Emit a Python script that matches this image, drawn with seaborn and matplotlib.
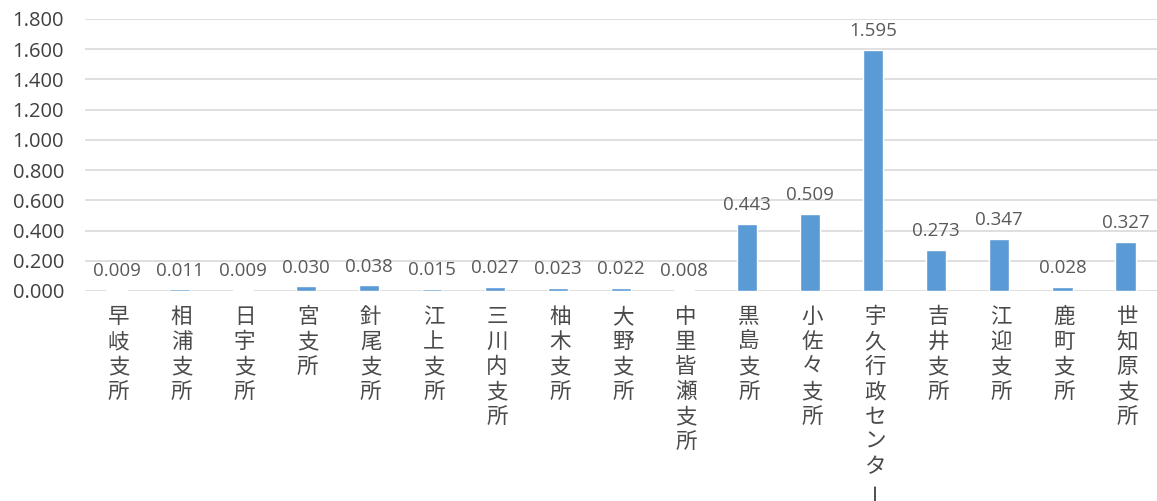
import numpy as np
import pandas as pd
import seaborn as sns
import matplotlib.pyplot as plt

OFFICES = [
    "早岐支所", "相浦支所", "日宇支所", "宮支所", "針尾支所", "江上支所",
    "三川内支所", "柚木支所", "大野支所", "中里皆瀬支所", "黒島支所",
    "小佐々支所", "宇久行政センター", "吉井支所", "江迎支所", "鹿町支所",
    "世知原支所",
]
VALUES = [
    0.009, 0.011, 0.009, 0.030, 0.038, 0.015, 0.027, 0.023, 0.022, 0.008,
    0.443, 0.509, 1.595, 0.273, 0.347, 0.028, 0.327,
]
Y_TICKS = [0.0, 0.2, 0.4, 0.6, 0.8, 1.0, 1.2, 1.4, 1.6, 1.8]

BAR_COLOR = "#5B9BD5"
GRID_COLOR = "#D9D9D9"
TEXT_COLOR = "#595959"
NUM_FONT = ["Open Sans", "DejaVu Sans"]


def main():
    sns.set_theme(style="white")
    plt.rcParams["font.family"] = ["Noto Sans CJK JP", "DejaVu Sans"]

    df = pd.DataFrame({"office": OFFICES, "value": VALUES})

    fig = plt.figure(figsize=(11.57, 5.01), dpi=100)
    ax = fig.add_axes([85 / 1157, 1 - 291 / 501, 1 - 85 / 1157, (291 - 19) / 501])

    sns.barplot(data=df, x="office", y="value", color=BAR_COLOR, width=0.32,
                saturation=1, ax=ax, zorder=3)

    ax.set_ylim(0, 1.8)
    ax.set_xlim(-0.5, len(OFFICES) - 0.5)
    ax.set_yticks(Y_TICKS)
    ax.set_yticklabels([f"{t:.3f}" for t in Y_TICKS], fontsize=14.5,
                       color="#404040", family=NUM_FONT)
    ax.yaxis.grid(True, color=GRID_COLOR, linewidth=1.2, zorder=0)
    ax.set_axisbelow(True)
    for side in ax.spines.values():
        side.set_visible(False)
    ax.tick_params(axis="both", length=0)
    ax.tick_params(axis="y", pad=15)
    ax.set_xlabel("")
    ax.set_ylabel("")
    ax.set_xticks(range(len(OFFICES)))
    ax.set_xticklabels([""] * len(OFFICES))

    # value labels
    for i, v in enumerate(VALUES):
        ax.annotate(f"{v:.3f}", xy=(i, v), xytext=(0, 7), textcoords="offset points",
                    ha="center", va="bottom", fontsize=13.5, color=TEXT_COLOR,
                    family=NUM_FONT)

    # vertical (stacked) category labels
    for i, name in enumerate(OFFICES):
        for j, ch in enumerate(name):
            ax.annotate(ch, xy=(i, 0), xycoords=("data", "axes fraction"),
                        xytext=(2, -26 - j * 25), textcoords="offset pixels",
                        ha="center", va="center", fontsize=15.5,
                        rotation=90 if ch == "ー" else 0,
                        color="#4a4a4a")

    fig.savefig("out.png", dpi=100)
    plt.close(fig)


if __name__ == "__main__":
    main()
